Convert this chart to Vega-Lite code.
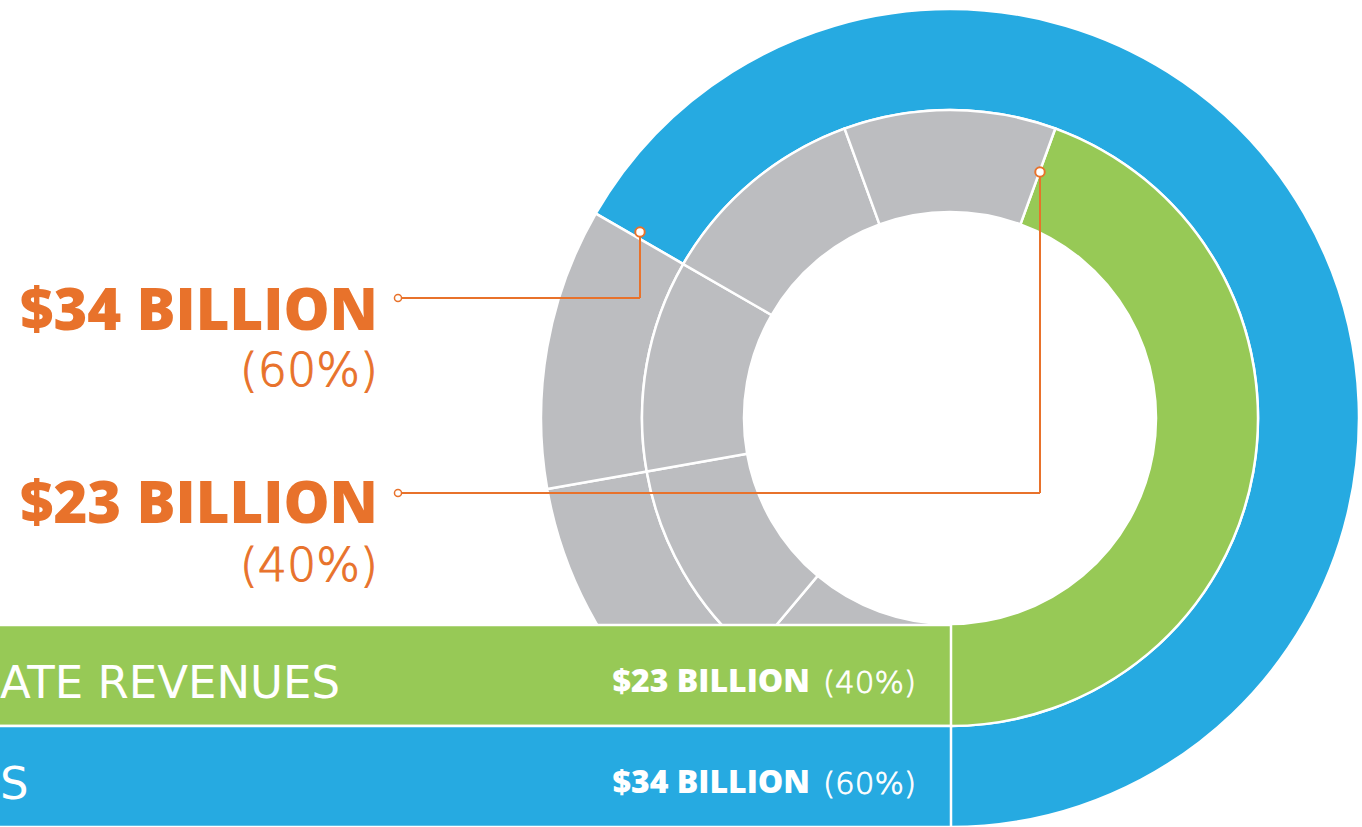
{
  "$schema": "https://vega.github.io/schema/vega-lite/v6.json",
  "width": 1362,
  "height": 827,
  "autosize": {"type": "none"},
  "padding": 0,
  "background": "white",
  "config": {"view": {"stroke": null}, "axis": {"disable": true}},
  "resolve": {"scale": {"y": "independent", "theta": "independent"}},
  "layer": [
    {
      "data": {"values": [
        {"ring": "outer", "segment": "$34 billion", "group": "revenue_34", "deg": 240, "seq": 1},
        {"ring": "outer", "segment": "other 1", "group": "other", "deg": 40, "seq": 2},
        {"ring": "outer", "segment": "other 2", "group": "other", "deg": 40, "seq": 3},
        {"ring": "outer", "segment": "other 3", "group": "other", "deg": 40, "seq": 4}
      ]},
      "mark": {"type": "arc", "radius": 409, "radius2": 308, "stroke": "white", "strokeWidth": 2.5},
      "encoding": {
        "theta": {"field": "deg", "type": "quantitative", "stack": true, "scale": {"range": [5.236, 11.519]}},
        "order": {"field": "seq", "type": "quantitative"},
        "color": {"field": "group", "type": "nominal", "scale": {"domain": ["revenue_23", "revenue_34", "other"], "range": ["#97C956", "#26AAE1", "#BCBDC0"]}, "legend": null},
        "x": {"datum": 950, "type": "quantitative", "scale": {"domain": [0, 1362], "nice": false, "zero": false}},
        "y": {"datum": 418, "type": "quantitative", "scale": {"domain": [0, 827], "reverse": true, "nice": false, "zero": false}}
      }
    },
    {
      "data": {"values": [
        {"ring": "inner", "segment": "$23 billion", "group": "revenue_23", "deg": 160, "seq": 1},
        {"ring": "inner", "segment": "other 1", "group": "other", "deg": 40, "seq": 2},
        {"ring": "inner", "segment": "other 2", "group": "other", "deg": 40, "seq": 3},
        {"ring": "inner", "segment": "other 3", "group": "other", "deg": 40, "seq": 4},
        {"ring": "inner", "segment": "other 4", "group": "other", "deg": 40, "seq": 5},
        {"ring": "inner", "segment": "other 5", "group": "other", "deg": 40, "seq": 6}
      ]},
      "mark": {"type": "arc", "radius": 308, "radius2": 206, "stroke": "white", "strokeWidth": 2.5},
      "encoding": {
        "theta": {"field": "deg", "type": "quantitative", "stack": true, "scale": {"range": [0.349, 6.632]}},
        "order": {"field": "seq", "type": "quantitative"},
        "color": {"field": "group", "type": "nominal", "scale": {"domain": ["revenue_23", "revenue_34", "other"], "range": ["#97C956", "#26AAE1", "#BCBDC0"]}, "legend": null},
        "x": {"datum": 950, "type": "quantitative", "scale": {"domain": [0, 1362], "nice": false, "zero": false}},
        "y": {"datum": 418, "type": "quantitative", "scale": {"domain": [0, 827], "reverse": true, "nice": false, "zero": false}}
      }
    },
    {
      "data": {"values": [
        {"label": "ATE REVENUES", "amount": "$23 BILLION", "pct": "(40%)", "group": "revenue_23"},
        {"label": "S", "amount": "$34 BILLION", "pct": "(60%)", "group": "revenue_34"}
      ]},
      "encoding": {
        "y": {"field": "label", "type": "nominal", "sort": null, "scale": {"domain": ["ATE REVENUES", "S"], "range": [625, 827], "paddingInner": 0, "paddingOuter": 0}}
      },
      "layer": [
        {
          "mark": {"type": "bar", "stroke": "white", "strokeWidth": 2.5, "xOffset": -6},
          "encoding": {
            "x": {"datum": 0, "type": "quantitative", "scale": {"domain": [0, 1362], "nice": false, "zero": false}},
            "x2": {"datum": 951},
            "color": {"field": "group", "type": "nominal", "scale": {"domain": ["revenue_23", "revenue_34", "other"], "range": ["#97C956", "#26AAE1", "#BCBDC0"]}, "legend": null}
          }
        },
        {
          "mark": {"type": "text", "align": "left", "baseline": "alphabetic", "font": "DejaVu Sans", "fontSize": 45, "color": "white", "dy": 22, "dx": 0},
          "encoding": {
            "text": {"field": "label"},
            "x": {"datum": 0, "type": "quantitative", "scale": {"domain": [0, 1362], "nice": false, "zero": false}}
          }
        },
        {
          "mark": {"type": "text", "align": "right", "baseline": "alphabetic", "font": "Open Sans", "fontWeight": 800, "fontSize": 32, "color": "white", "dy": 16},
          "encoding": {
            "text": {"field": "amount"},
            "x": {"datum": 810, "type": "quantitative", "scale": {"domain": [0, 1362], "nice": false, "zero": false}}
          }
        },
        {
          "mark": {"type": "text", "align": "right", "baseline": "alphabetic", "font": "DejaVu Sans", "fontWeight": 200, "fontSize": 31, "color": "white", "stroke": "white", "strokeWidth": 0.8, "dy": 17},
          "encoding": {
            "text": {"field": "pct"},
            "x": {"datum": 916, "type": "quantitative", "scale": {"domain": [0, 1362], "nice": false, "zero": false}}
          }
        }
      ]
    },
    {
      "data": {"values": [{"amount": "$34 BILLION", "pct": "(60%)"}]},
      "layer": [
        {
          "mark": {"type": "rule", "color": "#E8722B", "strokeWidth": 2},
          "encoding": {
            "x": {"datum": 398, "type": "quantitative", "scale": {"domain": [0, 1362], "nice": false, "zero": false}},
            "x2": {"datum": 640},
            "y": {"datum": 298, "type": "quantitative", "scale": {"domain": [0, 827], "reverse": true, "nice": false, "zero": false}}
          }
        },
        {
          "mark": {"type": "rule", "color": "#E8722B", "strokeWidth": 2},
          "encoding": {
            "x": {"datum": 640, "type": "quantitative", "scale": {"domain": [0, 1362], "nice": false, "zero": false}},
            "y": {"datum": 298, "type": "quantitative", "scale": {"domain": [0, 827], "reverse": true, "nice": false, "zero": false}},
            "y2": {"datum": 232}
          }
        },
        {
          "mark": {"type": "point", "shape": "circle", "filled": true, "fill": "white", "stroke": "#E8722B", "strokeWidth": 1.5, "size": 50, "opacity": 1},
          "encoding": {
            "x": {"datum": 398, "type": "quantitative", "scale": {"domain": [0, 1362], "nice": false, "zero": false}},
            "y": {"datum": 298, "type": "quantitative", "scale": {"domain": [0, 827], "reverse": true, "nice": false, "zero": false}}
          }
        },
        {
          "mark": {"type": "point", "shape": "circle", "filled": true, "fill": "white", "stroke": "#E8722B", "strokeWidth": 2, "size": 90, "opacity": 1},
          "encoding": {
            "x": {"datum": 640, "type": "quantitative", "scale": {"domain": [0, 1362], "nice": false, "zero": false}},
            "y": {"datum": 232, "type": "quantitative", "scale": {"domain": [0, 827], "reverse": true, "nice": false, "zero": false}}
          }
        },
        {
          "mark": {"type": "text", "align": "right", "baseline": "alphabetic", "font": "Open Sans", "fontWeight": 800, "fontSize": 58, "color": "#E8722B"},
          "encoding": {
            "text": {"field": "amount"},
            "x": {"datum": 378, "type": "quantitative", "scale": {"domain": [0, 1362], "nice": false, "zero": false}},
            "y": {"datum": 330, "type": "quantitative", "scale": {"domain": [0, 827], "reverse": true, "nice": false, "zero": false}}
          }
        },
        {
          "mark": {"type": "text", "align": "right", "baseline": "alphabetic", "font": "DejaVu Sans", "fontWeight": 200, "fontSize": 46, "color": "#E8722B", "stroke": "#E8722B", "strokeWidth": 1},
          "encoding": {
            "text": {"field": "pct"},
            "x": {"datum": 378, "type": "quantitative", "scale": {"domain": [0, 1362], "nice": false, "zero": false}},
            "y": {"datum": 386, "type": "quantitative", "scale": {"domain": [0, 827], "reverse": true, "nice": false, "zero": false}}
          }
        }
      ]
    },
    {
      "data": {"values": [{"amount": "$23 BILLION", "pct": "(40%)"}]},
      "layer": [
        {
          "mark": {"type": "rule", "color": "#E8722B", "strokeWidth": 2},
          "encoding": {
            "x": {"datum": 398, "type": "quantitative", "scale": {"domain": [0, 1362], "nice": false, "zero": false}},
            "x2": {"datum": 1040},
            "y": {"datum": 493, "type": "quantitative", "scale": {"domain": [0, 827], "reverse": true, "nice": false, "zero": false}}
          }
        },
        {
          "mark": {"type": "rule", "color": "#E8722B", "strokeWidth": 2},
          "encoding": {
            "x": {"datum": 1040, "type": "quantitative", "scale": {"domain": [0, 1362], "nice": false, "zero": false}},
            "y": {"datum": 493, "type": "quantitative", "scale": {"domain": [0, 827], "reverse": true, "nice": false, "zero": false}},
            "y2": {"datum": 172}
          }
        },
        {
          "mark": {"type": "point", "shape": "circle", "filled": true, "fill": "white", "stroke": "#E8722B", "strokeWidth": 1.5, "size": 50, "opacity": 1},
          "encoding": {
            "x": {"datum": 398, "type": "quantitative", "scale": {"domain": [0, 1362], "nice": false, "zero": false}},
            "y": {"datum": 493, "type": "quantitative", "scale": {"domain": [0, 827], "reverse": true, "nice": false, "zero": false}}
          }
        },
        {
          "mark": {"type": "point", "shape": "circle", "filled": true, "fill": "white", "stroke": "#E8722B", "strokeWidth": 2, "size": 90, "opacity": 1},
          "encoding": {
            "x": {"datum": 1040, "type": "quantitative", "scale": {"domain": [0, 1362], "nice": false, "zero": false}},
            "y": {"datum": 172, "type": "quantitative", "scale": {"domain": [0, 827], "reverse": true, "nice": false, "zero": false}}
          }
        },
        {
          "mark": {"type": "text", "align": "right", "baseline": "alphabetic", "font": "Open Sans", "fontWeight": 800, "fontSize": 58, "color": "#E8722B"},
          "encoding": {
            "text": {"field": "amount"},
            "x": {"datum": 378, "type": "quantitative", "scale": {"domain": [0, 1362], "nice": false, "zero": false}},
            "y": {"datum": 523, "type": "quantitative", "scale": {"domain": [0, 827], "reverse": true, "nice": false, "zero": false}}
          }
        },
        {
          "mark": {"type": "text", "align": "right", "baseline": "alphabetic", "font": "DejaVu Sans", "fontWeight": 200, "fontSize": 46, "color": "#E8722B", "stroke": "#E8722B", "strokeWidth": 1},
          "encoding": {
            "text": {"field": "pct"},
            "x": {"datum": 378, "type": "quantitative", "scale": {"domain": [0, 1362], "nice": false, "zero": false}},
            "y": {"datum": 581, "type": "quantitative", "scale": {"domain": [0, 827], "reverse": true, "nice": false, "zero": false}}
          }
        }
      ]
    }
  ]
}
